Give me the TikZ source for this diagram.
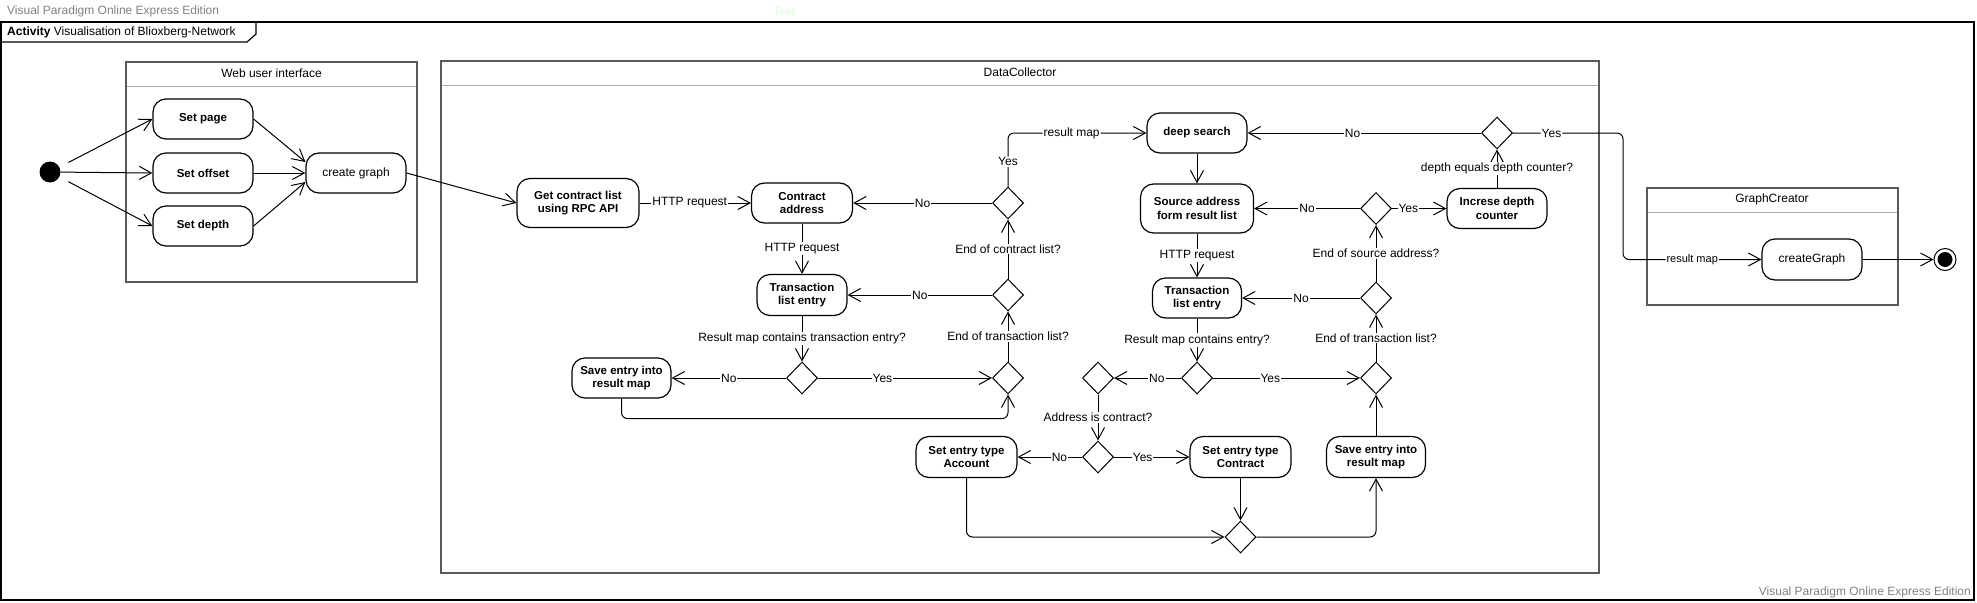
\documentclass[tikz,border=0pt]{standalone}
\usepackage{fontspec}
\setmainfont{Liberation Sans}
\usetikzlibrary{shapes.geometric,arrows.meta}
\definecolor{partc}{RGB}{90,90,90}
\definecolor{headc}{RGB}{170,170,170}
\definecolor{wmark}{RGB}{128,128,128}
\definecolor{ghost}{RGB}{222,255,222}
\begin{document}
\begin{tikzpicture}[x=1pt,y=-1pt,
  act/.style={draw, line width=1.2pt, rounded corners=13pt, align=center, inner sep=0pt,
    font=\fontsize{11.5}{13.7}\selectfont\bfseries},
  actr/.style={act, font=\fontsize{12}{14}\selectfont},
  dec/.style={draw, diamond, line width=1pt, minimum width=31pt, minimum height=32pt, inner sep=0pt},
  flow/.style={draw, line width=1pt, -{Straight Barb[length=12pt,width=13pt]}},
  lbl/.style={fill=white, inner sep=1pt, font=\fontsize{12}{14}\selectfont},
  slbl/.style={fill=white, inner sep=1pt, font=\fontsize{11}{13}\selectfont},
  part/.style={draw=partc, line width=1.2pt},
  headline/.style={draw=headc, line width=1pt},
  ptitle/.style={font=\fontsize{12}{14}\selectfont, inner sep=0pt},
]
\useasboundingbox (0,0) rectangle (1977,602);

% watermarks
\node[anchor=west, text=wmark, font=\fontsize{12}{14}\selectfont, inner sep=0pt] (wm1) at (7,11) {Visual Paradigm Online Express Edition};
\node[anchor=east, text=wmark, font=\fontsize{12}{14}\selectfont, inner sep=0pt] (wm2) at (1971,592) {Visual Paradigm Online Express Edition};
\node[text=ghost, font=\fontsize{12}{14}\selectfont, inner sep=0pt] (ghosttext) at (784,11) {Text};

% outer frame
\draw[line width=1.2pt] (1,22) rectangle (1974,600);
\draw[line width=1.2pt] (1,42) -- (247,42) -- (256,34) -- (256,22);
\node[anchor=west, font=\fontsize{12}{14}\selectfont, inner sep=0pt] (title) at (7,32) {\textbf{Activity} Visualisation of Blioxberg-Network};

% partitions
\draw[part] (126,62) rectangle (417,282);
\draw[headline] (127,86) -- (416,86);
\node[ptitle] (pweb) at (271.5,73) {Web user interface};

\draw[part] (441,61) rectangle (1599,573);
\draw[headline] (442,85) -- (1598,85);
\node[ptitle] (pdc) at (1020,72) {DataCollector};

\draw[part] (1647,188) rectangle (1898,305);
\draw[headline] (1648,212) -- (1897,212);
\node[ptitle] (pgc) at (1772,199) {GraphCreator};

% initial / final
\node[circle, fill=black, minimum size=21pt, inner sep=0pt] (init) at (50,172) {};
\node[circle, draw, line width=1pt, minimum size=22pt, inner sep=0pt] (final) at (1945,259.5) {};
\node[circle, fill=black, minimum size=15pt, inner sep=0pt] (finalin) at (1945,259.5) {};

% web ui actions
\node[act, minimum width=100pt, minimum height=40pt] (setpage) at (203,119) {Set page};
\node[act, minimum width=100pt, minimum height=40pt] (setoffset) at (203,173) {Set offset};
\node[act, minimum width=100pt, minimum height=40pt] (setdepth) at (203,226) {Set depth};
\node[actr, minimum width=100pt, minimum height=40pt] (cg) at (356,173) {create graph};

% data collector left
\node[act, minimum width=122pt, minimum height=49pt] (get) at (578,203) {Get contract list\\using RPC API};
\node[actr, font=\fontsize{11.5}{13.7}\selectfont\bfseries, minimum width=101pt, minimum height=40pt] (caddr) at (802,203) {Contract\\address};
\node[act, minimum width=90pt, minimum height=41pt] (t1) at (802,295) {Transaction\\list entry};
\node[dec] (d3) at (802,378) {};
\node[act, minimum width=99pt, minimum height=40pt] (save1) at (621.5,378) {Save entry into\\result map};
\node[dec] (d1) at (1008,203) {};
\node[dec] (d2) at (1008,295) {};
\node[dec] (d4) at (1008,378) {};

% data collector right
\node[act, minimum width=100pt, minimum height=40pt] (deep) at (1197,133) {deep search};
\node[act, minimum width=113pt, minimum height=49pt] (src) at (1197,208.5) {Source address\\form result list};
\node[act, minimum width=89pt, minimum height=40pt] (t2) at (1197,298) {Transaction\\list entry};
\node[dec] (d5) at (1376,208.5) {};
\node[dec] (d6) at (1376,298) {};
\node[dec] (d7) at (1376,378) {};
\node[dec] (d8) at (1197,378) {};
\node[dec] (d9) at (1098,378) {};
\node[dec] (d10) at (1098,457) {};
\node[act, minimum width=101pt, minimum height=41pt] (acc) at (966.5,457) {Set entry type\\Account};
\node[act, minimum width=101pt, minimum height=41pt] (con) at (1240.5,457) {Set entry type\\Contract};
\node[dec] (d11) at (1240.5,537) {};
\node[act, minimum width=99pt, minimum height=41pt] (save2) at (1376,457) {Save entry into\\result map};
\node[act, minimum width=100pt, minimum height=40pt] (inc) at (1497,208.5) {Increse depth\\counter};
\node[dec] (d12) at (1497,133) {};

% graph creator
\node[actr, minimum width=100pt, minimum height=41pt] (cgr) at (1812,259.5) {createGraph};
\coordinate (xb) at (1623,0);

% web ui flows
\draw[flow, shorten <=10pt] (init) -- (setpage.west);
\draw[flow] (init) -- (setoffset.west);
\draw[flow, shorten <=10pt] (init) -- (setdepth.west);
\draw[flow] (setpage.east) -- ([yshift=11pt]cg.west);
\draw[flow] (setoffset.east) -- (cg.west);
\draw[flow] (setdepth.east) -- ([yshift=-9pt]cg.west);
\draw[flow] (cg.east) -- (get.west);

% left loop
\draw[flow] (get.east) -- node[lbl, pos=0.45]{HTTP request} (caddr.west);
\draw[flow] (caddr.south) -- node[lbl]{HTTP request} (t1.north);
\draw[flow] (t1.south) -- node[lbl]{Result map contains transaction entry?} (d3.north);
\draw[flow] (d3.west) -- node[lbl]{No} (save1.east);
\draw[flow] (d3.east) -- node[lbl, pos=0.37]{Yes} (d4.west);
\draw[flow, rounded corners=6pt] (save1.south) -- ++(0,20) -| (d4.south);
\draw[flow] (d4.north) -- node[lbl]{End of transaction list?} (d2.south);
\draw[flow] (d2.west) -- node[lbl]{No} (t1.east);
\draw[flow] (d2.north) -- node[lbl]{End of contract list?} (d1.south);
\draw[flow] (d1.west) -- node[lbl]{No} (caddr.east);
\draw[flow, rounded corners=6pt] (d1.north) |- node[lbl, pos=0.23]{Yes} node[lbl, pos=0.73]{result map} (deep.west);

% right loop
\draw[flow] (deep.south) -- (src.north);
\draw[flow] (src.south) -- node[lbl]{HTTP request} (t2.north);
\draw[flow] (t2.south) -- node[lbl]{Result map contains entry?} (d8.north);
\draw[flow] (d8.west) -- node[lbl, pos=0.36]{No} (d9.east);
\draw[flow] (d8.east) -- node[lbl, pos=0.39]{Yes} (d7.west);
\draw[flow] (d9.south) -- node[lbl]{Address is contract?} (d10.north);
\draw[flow] (d10.west) -- node[lbl, pos=0.35]{No} (acc.east);
\draw[flow] (d10.east) -- node[lbl, pos=0.38]{Yes} (con.west);
\draw[flow, rounded corners=6pt] (acc.south) |- (d11.west);
\draw[flow] (con.south) -- (d11.north);
\draw[flow, rounded corners=6pt] (d11.east) -| (save2.south);
\draw[flow] (save2.north) -- (d7.south);
\draw[flow] (d7.north) -- node[lbl]{End of transaction list?} (d6.south);
\draw[flow] (d6.west) -- node[lbl]{No} (t2.east);
\draw[flow] (d6.north) -- node[lbl]{End of source address?} (d5.south);
\draw[flow] (d5.west) -- node[lbl]{No} (src.east);
\draw[flow] (d5.east) -- node[lbl, pos=0.3]{Yes} (inc.west);
\draw[flow] (inc.north) -- node[lbl]{depth equals depth counter?} (d12.south);
\draw[flow] (d12.west) -- node[lbl, pos=0.55]{No} (deep.east);
\draw[flow, rounded corners=6pt] (d12.east) -- node[lbl, pos=0.35]{Yes} (d12.east -| xb) -- (xb |- cgr.west) -- node[slbl]{result map} (cgr.west);
\draw[flow] (cgr.east) -- (final.west);
\end{tikzpicture}
\end{document}
